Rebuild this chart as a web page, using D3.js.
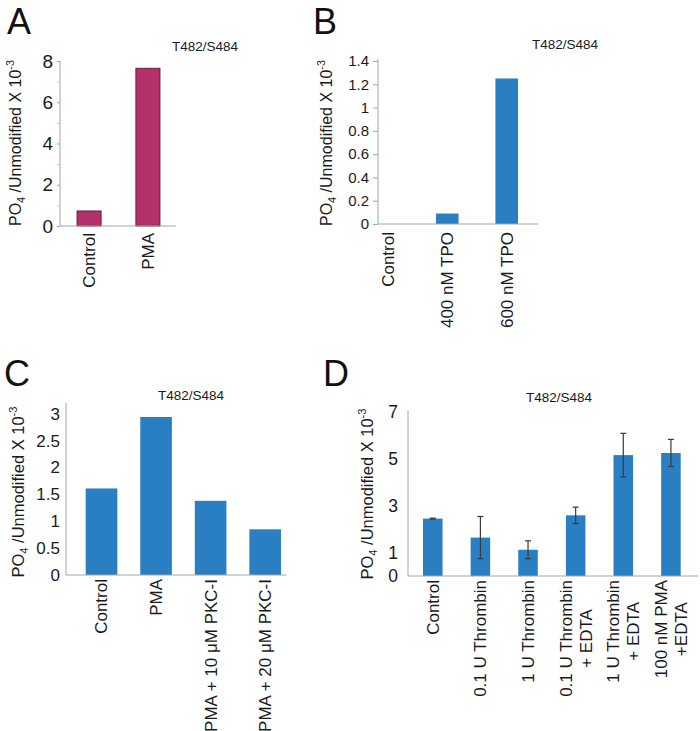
<!DOCTYPE html>
<html><head><meta charset="utf-8">
<script src="https://cdn.jsdelivr.net/npm/d3@7"></script>
<style>
body{margin:0;background:#fff;}
svg{display:block;font-family:"Liberation Sans",Arial,sans-serif;}
</style></head>
<body><svg id="chart" width="700" height="731"></svg>
<script>
// ---------- data ----------
const titleText = "T482/S484";
const catsA = ["Control", "PMA"];
const valsA = [0.73, 7.65];
const ticksA = [0, 2, 4, 6, 8];

const catsB = ["Control", "400 nM TPO", "600 nM TPO"];
const valsB = [0, 0.09, 1.25];
const ticksB = [0, 0.2, 0.4, 0.6, 0.8, 1, 1.2, 1.4];

const catsC = ["Control", "PMA", "PMA + 10 \u03BCM PKC-I", "PMA + 20 \u03BCM PKC-I"];
const valsC = [1.61, 2.94, 1.38, 0.85];
const ticksC = [0, 0.5, 1, 1.5, 2, 2.5, 3];

const catsD = ["Control", "0.1 U Thrombin", "1 U Thrombin", "0.1 U Thrombin|+ EDTA", "1 U Thrombin|+ EDTA", "100 nM PMA|+EDTA"];
const valsD = [2.45, 1.64, 1.12, 2.59, 5.16, 5.25];
const errD = [0.02, 0.9, 0.38, 0.35, 0.93, 0.58];
const ticksD = [0, 1, 3, 5, 7];

// ---------- drawing ----------
const svg = d3.select("#chart");
const textCol = "#1a1a1a", axisCol = "#a6a6a6";

function panel(o) {
  const g = svg.append("g");
  const y = d3.scaleLinear().domain(o.ydom).range([o.y0, o.y1]);
  const x = d3.scaleBand().domain(o.cats).range(o.xr).paddingInner(o.pi).paddingOuter(0);

  g.append("text").attr("x", o.letterX).attr("y", o.letterY).attr("font-size", 36)
    .attr("fill", "#111").text(o.letter);
  g.append("text").attr("x", o.titleX).attr("y", o.titleY).attr("text-anchor", "middle")
    .attr("font-size", 13.5).attr("fill", textCol).text(titleText);

  const ax = g.append("g").attr("transform", `translate(${o.axX},0)`)
    .call(d3.axisLeft(y).tickValues(o.ticks).tickSize(o.tickLen).tickPadding(o.tickPad)
      .tickFormat(d3.format("~g")));
  ax.select(".domain").remove();
  ax.selectAll(".tick line").attr("stroke", axisCol);
  ax.selectAll(".tick text").attr("font-size", o.tickFs).attr("fill", textCol)
    .attr("font-family", "Liberation Sans, Arial, sans-serif");
  if (o.minor) {
    g.append("g").attr("transform", `translate(${o.axX},0)`)
      .call(d3.axisLeft(y).tickValues(o.minor).tickSize(3).tickFormat(""))
      .call(s => { s.select(".domain").remove(); s.selectAll("line").attr("stroke", "#d0d0d0"); });
  }
  g.append("line").attr("x1", o.axX).attr("x2", o.axX).attr("y1", o.axTop).attr("y2", o.y0)
    .attr("stroke", axisCol).attr("stroke-width", 1);

  g.selectAll("rect.bar").data(o.vals).join("rect").attr("class", "bar")
    .attr("x", (d, i) => x(o.cats[i])).attr("width", x.bandwidth())
    .attr("y", d => y(d)).attr("height", d => y(0) - y(d))
    .attr("fill", o.color)
    .attr("stroke", o.stroke || "none").attr("stroke-width", o.stroke ? 0.8 : 0);

  g.append("line").attr("x1", o.axX).attr("x2", o.axEnd).attr("y1", o.y0).attr("y2", o.y0)
    .attr("stroke", axisCol).attr("stroke-width", 1.2);

  if (o.err) {
    const cap = 3;
    o.vals.forEach((v, i) => {
      const cx = x(o.cats[i]) + x.bandwidth() / 2;
      const e = o.err[i];
      const eg = g.append("g").attr("stroke", "#3a3a3a").attr("stroke-width", 1.2);
      eg.append("line").attr("x1", cx).attr("x2", cx).attr("y1", y(v + e)).attr("y2", y(v - e));
      eg.append("line").attr("x1", cx - cap).attr("x2", cx + cap).attr("y1", y(v + e)).attr("y2", y(v + e));
      eg.append("line").attr("x1", cx - cap).attr("x2", cx + cap).attr("y1", y(v - e)).attr("y2", y(v - e));
    });
  }

  o.cats.forEach(c => {
    const lines = c.split("|");
    const cx = x(c) + x.bandwidth() / 2;
    const top = o.y0 + o.labGap;
    const lg = g.append("g");
    const ts = lines.map(t => lg.append("text").attr("font-size", o.catFs).attr("fill", textCol).text(t));
    const widths = ts.map(t => t.node().getComputedTextLength());
    const maxW = d3.max(widths);
    const lh = o.catFs * 1.18;
    const n = lines.length;
    ts.forEach((t, j) => {
      const off = (j - (n - 1) / 2) * lh;
      t.attr("text-anchor", "middle").attr("dy", "0.35em")
        .attr("transform", `translate(${cx + off},${top + maxW / 2}) rotate(-90)`);
    });
  });

  const yl = g.append("text").attr("font-size", o.ylFs).attr("fill", textCol)
    .attr("text-anchor", "middle")
    .attr("transform", `translate(${o.ylX},${o.ylY}) rotate(-90)`);
  yl.append("tspan").text("PO");
  yl.append("tspan").attr("font-size", o.ylFs * 0.68).attr("dy", o.ylFs * 0.25).text("4");
  yl.append("tspan").attr("dy", -o.ylFs * 0.25).text(" /Unmodified X 10");
  yl.append("tspan").attr("font-size", o.ylFs * 0.68).attr("dy", -o.ylFs * 0.42).text("-3");
}

panel({letter: "A", letterX: 7, letterY: 34, titleX: 205, titleY: 51,
  cats: catsA, vals: valsA, ticks: ticksA, minor: [1, 3, 5, 7],
  ydom: [0, 8], y0: 226, y1: 61, axTop: 61, axX: 60, axEnd: 176,
  xr: [77, 160], pi: 0.59, color: "#B3306A", stroke: "#4d1530",
  tickLen: 3, tickPad: 4, tickFs: 19, catFs: 17, labGap: 7,
  ylFs: 16, ylX: 21, ylY: 143});

panel({letter: "B", letterX: 313, letterY: 34, titleX: 565, titleY: 49,
  cats: catsB, vals: valsB, ticks: ticksB,
  ydom: [0, 1.4], y0: 224, y1: 61, axTop: 59, axX: 378, axEnd: 538,
  xr: [376.5, 518], pi: 0.62, color: "#2A7FC3",
  tickLen: 5, tickPad: 4, tickFs: 15, catFs: 17, labGap: 8,
  ylFs: 16, ylX: 332, ylY: 143});

panel({letter: "C", letterX: 4, letterY: 386, titleX: 191, titleY: 400,
  cats: catsC, vals: valsC, ticks: ticksC,
  ydom: [0, 3.2], y0: 575, y1: 403, axTop: 403, axX: 66, axEnd: 286,
  xr: [85.7, 281], pi: 0.42, color: "#2A7FC3",
  tickLen: 0, tickPad: 6, tickFs: 17, catFs: 17, labGap: 4,
  ylFs: 16.5, ylX: 24, ylY: 492});

panel({letter: "D", letterX: 323, letterY: 386, titleX: 559, titleY: 402,
  cats: catsD, vals: valsD, err: errD, ticks: ticksD,
  ydom: [0, 7], y0: 576, y1: 412, axTop: 410, axX: 408, axEnd: 698,
  xr: [423, 680.7], pi: 0.59, color: "#2A7FC3",
  tickLen: 0, tickPad: 10, tickFs: 17.5, catFs: 17, labGap: 4,
  ylFs: 16.5, ylX: 373, ylY: 494});
</script>
</body></html>
